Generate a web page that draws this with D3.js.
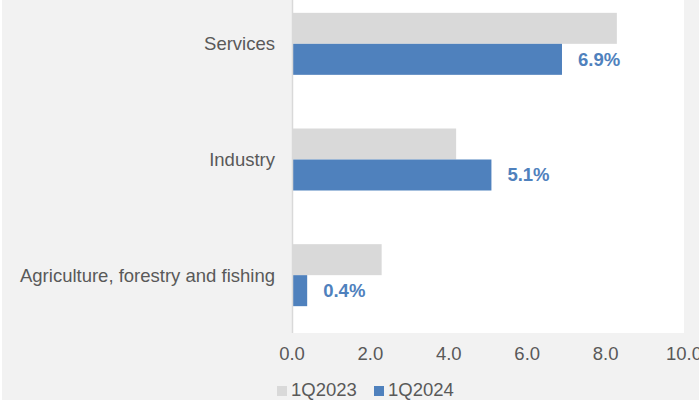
<!DOCTYPE html>
<html>
<head>
<meta charset="utf-8">
<script src="https://d3js.org/d3.v7.min.js"></script>
<style>
  body { margin: 0; }
  svg { display: block; font-family: "Liberation Sans", Arial, sans-serif; }
</style>
</head>
<body>
<svg width="699" height="400"></svg>
<script>
// categories top to bottom
var categories = ["Services", "Industry", "Agriculture, forestry and fishing"];
var seriesNames = ["1Q2023", "1Q2024"];
var values2023 = [8.3, 4.2, 2.3];
var values2024 = [6.9, 5.1, 0.4];
var xTicks = [0, 2, 4, 6, 8, 10];

var colors = ["#d9d9d9", "#4f81bd"];
var textColor = "#595959";

var svg = d3.select("svg");

// outer background
svg.append("rect").attr("width", 699).attr("height", 400).attr("fill", "#f2f2f2");
svg.append("rect").attr("width", 2).attr("height", 400).attr("fill", "#ffffff");

var plot = { left: 292, right: 684, top: -14, bottom: 333 };

var x = d3.scaleLinear().domain([0, 10]).range([291.5, 683.5]);
var y = d3.scaleBand().domain(categories).range([plot.top, plot.bottom]).padding(0);
var barH = 31;

// plot area
svg.append("rect")
  .attr("x", plot.left).attr("y", 0)
  .attr("width", plot.right - plot.left).attr("height", plot.bottom)
  .attr("fill", "#ffffff");

var rows = categories.map(function(c, i) {
  return { cat: c, v: [values2023[i], values2024[i]] };
});

var groups = svg.selectAll("g.row").data(rows).enter()
  .append("g").attr("class", "row")
  .attr("transform", function(d) { return "translate(0," + (y(d.cat) + y.bandwidth() / 2) + ")"; });

groups.selectAll("rect").data(function(d) { return d.v; }).enter()
  .append("rect")
  .attr("x", x(0) + 0.5)
  .attr("y", function(d, i) { return i === 0 ? -barH : 0; })
  .attr("width", function(d) { return x(d) - x(0) - 0.5; })
  .attr("height", barH)
  .attr("fill", function(d, i) { return colors[i]; });

// data labels for 1Q2024
groups.append("text")
  .attr("x", function(d) { return x(d.v[1]) + 16; })
  .attr("y", barH / 2)
  .attr("dy", "0.35em")
  .attr("fill", colors[1])
  .attr("font-weight", "bold")
  .attr("font-size", "18.5px")
  .text(function(d) { return d.v[1].toFixed(1) + "%"; });

// category labels
groups.append("text")
  .attr("x", plot.left - 17)
  .attr("y", 0)
  .attr("dy", "0.35em")
  .attr("text-anchor", "end")
  .attr("fill", textColor)
  .attr("font-size", "18.5px")
  .text(function(d) { return d.cat; });

// vertical axis line
svg.append("line")
  .attr("x1", plot.left + 0.5).attr("x2", plot.left + 0.5)
  .attr("y1", 0).attr("y2", plot.bottom)
  .attr("stroke", "#d9d9d9").attr("stroke-width", 1.5);

// x axis labels
var xAxis = svg.append("g")
  .attr("transform", "translate(0," + (plot.bottom + 14) + ")")
  .call(d3.axisBottom(x).tickValues(xTicks).tickSize(0).tickPadding(0)
    .tickFormat(function(d) { return d.toFixed(1); }));
xAxis.select(".domain").remove();
xAxis.selectAll("text")
  .attr("fill", textColor)
  .attr("font-size", "18.5px")
  .attr("font-family", "Liberation Sans, Arial, sans-serif")
  .attr("dy", "0.71em")
  .attr("y", 0);

// legend
var legend = svg.append("g").attr("transform", "translate(277,386)");
var legX = [0, 97];
seriesNames.forEach(function(name, i) {
  legend.append("rect")
    .attr("x", legX[i]).attr("y", 0)
    .attr("width", 10).attr("height", 10)
    .attr("fill", colors[i]);
  legend.append("text")
    .attr("x", legX[i] + 14).attr("y", 10)
    .attr("fill", textColor)
    .attr("font-size", "18.5px")
    .text(name);
});
</script>
</body>
</html>
